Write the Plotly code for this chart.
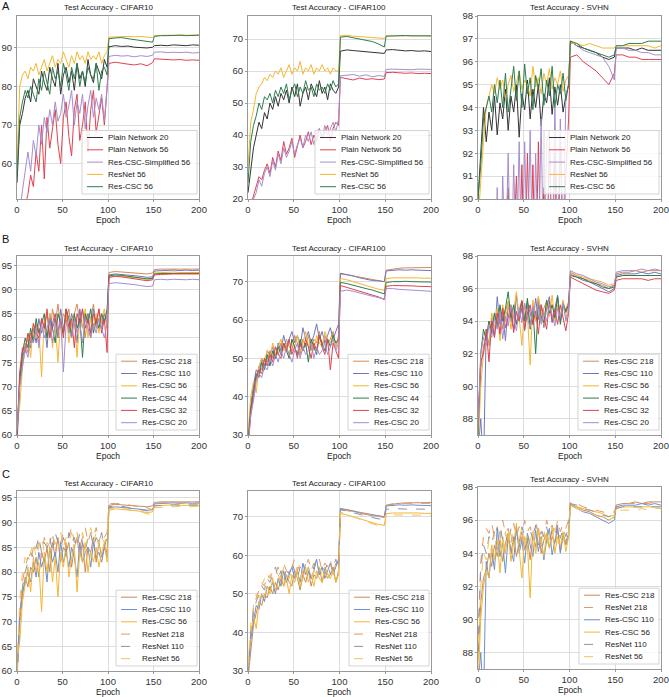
import plotly.graph_objects as go

W, H = 669, 697
FONT = "Liberation Sans, Arial, sans-serif"

# epochs sampled from the training curves
EPOCHS = [0, 3, 6, 9, 12, 15, 18, 21, 24, 27, 30, 33, 36, 39, 42, 45, 48, 51, 54, 57,
          60, 63, 66, 69, 72, 75, 78, 81, 84, 87, 90, 93, 96, 99,
          101, 108, 115, 122, 129, 136, 143, 149, 151, 158, 165, 172, 179, 186, 193, 200]

# ---------------- A: plain vs residual ----------------
A_C10_PLAIN20 = [55, 70, 73, 77, 79, 76, 82, 80, 78, 84, 81, 79, 85, 82, 80, 86, 78, 83, 85, 81,
                 84, 79, 86, 82, 84, 80, 87, 83, 81, 86, 84, 82, 87, 85,
                 90.3, 90.6, 90.4, 90.5, 90.2, 90.1, 90.0, 90.2, 90.6, 90.7, 90.6, 90.8, 90.7, 90.6, 90.8, 90.7]
A_C10_PLAIN56 = [38, 42, 46, 49, 52, 57, 54, 63, 58, 70, 56, 72, 64, 69, 74, 65, 60, 72, 76, 67,
                 62, 74, 78, 66, 70, 76, 63, 74, 79, 68, 73, 77, 70, 81,
                 86.0, 86.3, 86.0, 85.8, 85.6, 85.9, 85.4, 86.2, 87.2, 87.1, 87.0, 86.9, 87.0, 86.8, 86.9, 86.8]
A_C10_SIMPL56 = [42, 48, 53, 58, 63, 58, 66, 62, 70, 65, 72, 68, 74, 70, 76, 71, 73, 78, 72, 75,
                 79, 70, 76, 73, 78, 69, 75, 79, 72, 77, 74, 78, 71, 80,
                 87.8, 88.1, 87.9, 88.0, 87.7, 88.0, 87.8, 88.1, 88.9, 89.0, 88.8, 88.9, 88.8, 88.9, 88.7, 88.8]
A_C10_RESNET56 = [60, 80, 83, 84, 82, 85, 84, 86, 83, 85, 87, 84, 86, 88, 85, 87, 86, 89, 87, 85,
                  88, 86, 89, 87, 88, 86, 89, 87, 88, 87, 89, 86, 88, 89,
                  92.8, 92.9, 92.9, 93.0, 92.9, 93.0, 92.8, 92.7, 93.2, 93.3, 93.3, 93.3, 93.4, 93.3, 93.3, 93.4]
A_C10_CSC56 = [57, 72, 76, 79, 77, 80, 78, 76, 82, 79, 84, 81, 78, 85, 82, 84, 80, 86, 83, 79,
               85, 82, 86, 80, 84, 81, 85, 83, 82, 86, 79, 84, 85, 83,
               92.4, 92.6, 92.7, 92.4, 92.2, 92.0, 91.7, 91.5, 93.0, 93.2, 93.2, 93.3, 93.3, 93.2, 93.3, 93.3]

A_C100_PLAIN20 = [22, 30, 36, 40, 44, 42, 47, 45, 50, 48, 52, 49, 53, 51, 54, 50, 55, 52, 56, 49,
                  53, 55, 51, 56, 54, 52, 57, 53, 55, 51, 56, 54, 53, 55,
                  66.2, 66.6, 66.4, 66.2, 66.0, 65.9, 65.6, 65.5, 66.6, 66.7, 66.5, 66.3, 66.4, 66.2, 66.3, 66.1]
A_C100_PLAIN56 = [15, 18, 21, 24, 27, 26, 29, 31, 28, 33, 30, 35, 32, 38, 34, 36, 39, 33, 37, 40,
                  36, 38, 41, 37, 40, 38, 42, 39, 41, 43, 38, 42, 44, 43,
                  58.0, 57.6, 57.2, 57.8, 57.4, 57.6, 57.3, 57.5, 59.5, 59.6, 59.4, 59.3, 59.4, 59.2, 59.3, 59.2]
A_C100_SIMPL56 = [14, 17, 20, 22, 26, 24, 28, 30, 27, 32, 29, 34, 31, 36, 33, 35, 38, 34, 37, 39,
                  36, 40, 38, 41, 37, 40, 42, 39, 43, 40, 42, 44, 41, 45,
                  58.5, 58.7, 58.9, 58.4, 58.8, 58.2, 58.6, 58.3, 60.5, 60.6, 60.5, 60.6, 60.4, 60.6, 60.5, 60.5]
A_C100_RESNET56 = [30, 44, 48, 53, 55, 56, 58, 57, 59, 58, 60, 59, 61, 58, 60, 62, 59, 61, 60, 63,
                   59, 61, 60, 62, 59, 61, 60, 62, 60, 61, 59, 61, 60, 60,
                   71.0, 71.2, 70.9, 70.8, 70.6, 70.5, 70.3, 70.2, 71.0, 71.0, 71.1, 71.0, 71.2, 71.0, 71.0, 70.9]
A_C100_CSC56 = [25, 38, 43, 46, 50, 48, 52, 51, 53, 50, 54, 52, 55, 53, 56, 51, 54, 56, 52, 55,
                53, 57, 54, 55, 52, 56, 54, 55, 53, 56, 54, 57, 55, 56,
                70.6, 70.8, 70.4, 70.0, 69.6, 69.2, 68.4, 67.5, 70.9, 71.0, 71.0, 71.1, 71.0, 71.0, 70.9, 71.0]

A_SVHN_PLAIN20 = [90.0, 92.0, 94.0, 92.5, 93.8, 93.0, 94.5, 92.8, 94.2, 93.5, 94.8, 93.0, 94.5, 93.8, 95.0, 92.7, 94.6, 93.9, 95.2, 93.5,
                  94.8, 94.0, 95.0, 93.2, 94.6, 94.2, 95.3, 93.7, 94.9, 94.1, 95.0, 93.8, 94.5, 95.0,
                  96.9, 96.7, 96.6, 96.5, 96.4, 96.2, 96.1, 96.2, 96.6, 96.6, 96.6, 96.5, 96.6, 96.5, 96.5, 96.5]
A_SVHN_PLAIN56 = [85, 86, 87, 86, 88, 87, 89, 86, 88, 87, 89, 90.5, 86, 88, 91, 87, 91.5, 86, 92, 87,
                  91.5, 86, 92.5, 87, 90.5, 86, 93, 87, 92, 86, 92.5, 88, 91, 93.5,
                  96.2, 96.3, 96.0, 95.8, 95.6, 95.3, 95.0, 95.5, 96.3, 96.3, 96.2, 96.2, 96.1, 96.1, 96.1, 96.1]
A_SVHN_SIMPL56 = [84, 86, 87, 88, 87, 89, 86, 90.5, 86, 91, 87, 92, 86, 91.5, 87, 92.5, 86, 92.5, 87, 93,
                  86, 92, 87, 93.5, 86, 92.5, 93, 87, 94, 88, 93.5, 87, 94.5, 95,
                  96.9, 96.7, 96.5, 96.4, 96.3, 96.2, 95.8, 95.2, 96.6, 96.6, 96.5, 96.5, 96.4, 96.4, 96.3, 96.3]
A_SVHN_RESNET56 = [89, 91.0, 92.5, 94.0, 94.5, 95.0, 94.6, 95.3, 94.8, 95.2, 94.4, 95.0, 95.4, 94.7, 95.1, 95.6, 94.8, 95.2, 95.0, 94.5,
                   95.8, 94.9, 95.3, 94.6, 95.5, 95.0, 95.7, 94.8, 95.3, 95.0, 95.6, 94.7, 95.2, 95.4,
                   96.8, 96.8, 96.7, 96.8, 96.7, 96.6, 96.6, 96.6, 96.7, 96.7, 96.7, 96.7, 96.7, 96.7, 96.6, 96.7]
A_SVHN_CSC56 = [90, 91.5, 93.5, 94.0, 94.5, 93.8, 95.0, 94.2, 95.2, 94.0, 95.5, 93.8, 94.9, 95.8, 94.3, 95.6, 94.0, 95.9, 94.6, 95.3,
                93.9, 95.4, 94.8, 95.7, 94.1, 95.2, 94.5, 95.8, 94.0, 95.0, 94.6, 95.5, 94.3, 95.0,
                96.9, 96.8, 96.6, 96.5, 96.4, 96.3, 96.2, 96.3, 96.7, 96.7, 96.8, 96.8, 96.8, 96.9, 96.9, 96.9]

# ---------------- B / C: Res-CSC depths ----------------
C10_CSC218 = [58, 70, 75, 79, 77, 81, 80, 83, 79, 84, 82, 85, 80, 86, 83, 87, 82, 85, 84, 86,
              81, 85, 87, 83, 86, 80, 85, 84, 87, 82, 86, 83, 85, 84,
              93.5, 93.7, 93.6, 93.5, 93.4, 93.3, 93.2, 93.4, 94.1, 94.2, 94.2, 94.3, 94.2, 94.2, 94.3, 94.2]
C10_CSC110 = [60, 72, 76, 78, 80, 78, 82, 79, 84, 81, 83, 78, 85, 82, 84, 80, 86, 82, 84, 81,
              85, 83, 79, 86, 82, 84, 85, 81, 86, 83, 84, 82, 85, 83,
              93.0, 93.2, 93.1, 92.9, 92.8, 92.7, 92.5, 92.6, 93.8, 93.9, 93.9, 94.0, 93.9, 94.0, 93.9, 94.0]
C10_CSC56 = [62, 66, 74, 78, 81, 76, 83, 80, 82, 72, 84, 80, 85, 78, 83, 75, 84, 81, 86, 79,
             83, 85, 76, 84, 82, 86, 80, 84, 82, 85, 81, 84, 86, 82,
             92.5, 92.8, 92.7, 92.6, 92.4, 92.3, 92.0, 92.2, 93.4, 93.5, 93.5, 93.6, 93.5, 93.5, 93.6, 93.5]
C10_CSC44 = [59, 71, 77, 80, 78, 82, 79, 84, 81, 83, 85, 80, 84, 82, 79, 85, 83, 81, 86, 84,
             80, 85, 82, 84, 76, 85, 83, 86, 81, 84, 82, 85, 83, 86,
             92.8, 93.0, 92.9, 92.7, 92.5, 92.4, 92.2, 92.3, 93.2, 93.3, 93.3, 93.4, 93.3, 93.3, 93.4, 93.3]
C10_CSC32 = [60, 73, 78, 77, 81, 79, 83, 81, 80, 84, 82, 86, 80, 83, 85, 81, 84, 80, 86, 82,
             84, 78, 85, 83, 86, 82, 84, 80, 85, 83, 86, 81, 84, 77,
             92.5, 92.7, 92.6, 92.4, 92.3, 92.0, 91.8, 92.0, 93.0, 93.1, 93.2, 93.2, 93.2, 93.2, 93.2, 93.2]
C10_CSC20 = [61, 70, 74, 78, 76, 80, 79, 82, 78, 83, 80, 82, 84, 79, 83, 81, 84, 73, 83, 82,
             80, 84, 81, 83, 79, 84, 82, 80, 83, 81, 84, 82, 80, 83,
             91.2, 91.4, 91.3, 91.2, 91.0, 90.8, 90.6, 90.7, 92.0, 92.1, 92.0, 92.1, 92.0, 92.0, 92.1, 92.0]

C100_CSC218 = [28, 36, 42, 45, 48, 47, 50, 49, 52, 50, 53, 51, 54, 52, 55, 53, 52, 56, 54, 51,
               55, 53, 56, 52, 55, 54, 57, 53, 56, 54, 55, 57, 53, 56,
               72.0, 71.8, 71.5, 71.2, 70.8, 70.5, 70.2, 70.0, 73.0, 73.3, 73.5, 73.6, 73.6, 73.7, 73.6, 73.7]
C100_CSC110 = [29, 38, 43, 47, 46, 50, 48, 52, 51, 53, 50, 54, 52, 56, 53, 55, 57, 54, 56, 53,
               58, 55, 57, 54, 56, 59, 55, 57, 54, 56, 58, 55, 57, 59,
               72.2, 71.9, 71.5, 71.0, 70.6, 70.3, 70.2, 70.0, 72.8, 73.0, 73.1, 73.0, 73.1, 73.0, 73.0, 72.9]
C100_CSC56 = [30, 40, 44, 41, 48, 50, 49, 52, 50, 54, 51, 53, 55, 52, 54, 50, 55, 53, 56, 52,
              54, 57, 53, 55, 52, 56, 54, 53, 57, 55, 54, 56, 53, 55,
              70.8, 70.5, 70.0, 69.5, 69.0, 68.5, 68.0, 67.8, 70.8, 71.0, 71.0, 71.1, 71.0, 71.0, 70.9, 70.9]
C100_CSC44 = [28, 37, 41, 46, 45, 49, 47, 51, 48, 52, 50, 53, 51, 54, 52, 50, 55, 53, 51, 55,
              52, 54, 49, 55, 53, 51, 56, 54, 52, 55, 53, 56, 54, 55,
              69.8, 69.5, 69.0, 68.6, 68.2, 67.8, 67.2, 66.8, 69.8, 70.0, 70.0, 70.1, 70.0, 70.0, 70.0, 69.9]
C100_CSC32 = [27, 36, 40, 45, 47, 46, 50, 48, 51, 49, 53, 51, 50, 54, 52, 55, 51, 53, 50, 54,
              52, 55, 53, 50, 54, 52, 56, 53, 51, 55, 47, 54, 52, 50,
              69.0, 68.5, 68.0, 67.5, 67.0, 66.5, 66.0, 65.3, 68.8, 69.0, 69.0, 68.9, 68.9, 68.8, 68.8, 68.7]
C100_CSC20 = [26, 35, 39, 44, 46, 45, 48, 47, 50, 48, 51, 49, 52, 50, 53, 51, 49, 52, 54, 50,
              53, 51, 52, 54, 50, 53, 51, 52, 54, 51, 53, 55, 52, 54,
              67.5, 67.8, 67.5, 67.0, 66.5, 66.2, 65.8, 65.5, 68.2, 68.2, 68.0, 67.9, 67.8, 67.7, 67.6, 67.5]

SVHN_CSC218 = [87.5, 91.0, 92.5, 93.0, 94.0, 93.2, 94.5, 93.8, 94.8, 93.5, 94.6, 95.2, 94.0, 95.0, 93.8, 94.7, 95.3, 94.2, 94.9, 93.6,
               95.1, 94.4, 95.5, 94.0, 94.8, 95.2, 94.3, 95.0, 94.6, 95.4, 94.1, 95.0, 94.7, 95.2,
               97.0, 96.8, 96.6, 96.5, 96.3, 96.2, 96.0, 96.2, 96.9, 97.0, 97.0, 97.1, 97.0, 97.1, 97.1, 97.1]
SVHN_CSC110 = [86.0, 88.0, 85.0, 93.5, 92.5, 94.2, 93.0, 95.5, 93.8, 94.6, 92.8, 95.0, 94.2, 93.5, 95.6, 94.0, 94.8, 93.4, 95.2, 94.4,
               93.8, 95.4, 94.1, 95.0, 93.6, 94.8, 95.5, 93.9, 94.7, 95.6, 94.0, 95.2, 94.5, 95.0,
               96.9, 96.7, 96.5, 96.4, 96.2, 96.0, 95.8, 96.0, 96.8, 96.9, 96.9, 96.9, 97.0, 96.9, 97.0, 96.9]
SVHN_CSC56 = [86.0, 90.0, 92.0, 93.0, 92.5, 94.5, 93.6, 94.8, 92.8, 95.0, 94.0, 95.2, 93.5, 94.7, 95.8, 94.2, 92.5, 95.0, 94.5, 91.3,
              95.3, 94.0, 95.5, 94.6, 93.8, 95.2, 94.3, 95.6, 94.0, 95.0, 94.4, 95.3, 94.1, 95.0,
              96.9, 96.8, 96.7, 96.6, 96.5, 96.4, 96.2, 96.3, 96.7, 96.8, 96.8, 96.8, 96.8, 96.8, 96.8, 96.8]
SVHN_CSC44 = [87.0, 92.0, 93.5, 92.8, 94.0, 93.3, 94.5, 93.6, 95.0, 94.0, 94.8, 95.8, 94.2, 95.0, 93.8, 94.6, 95.2, 94.0, 95.4, 93.5,
              94.8, 92.0, 95.0, 94.3, 93.9, 95.3, 94.5, 95.0, 94.2, 95.5, 93.8, 95.0, 94.6, 95.0,
              96.8, 96.7, 96.6, 96.4, 96.3, 96.1, 96.0, 96.1, 96.7, 96.8, 96.8, 96.8, 96.8, 96.8, 96.8, 96.8]
SVHN_CSC32 = [88.0, 91.5, 92.0, 93.5, 91.5, 94.0, 93.0, 94.5, 93.2, 94.8, 93.6, 94.2, 95.0, 93.3, 94.6, 94.0, 95.2, 93.5, 94.5, 95.0,
              93.8, 94.6, 93.2, 95.0, 94.3, 93.5, 95.2, 94.0, 94.7, 93.8, 95.0, 94.2, 93.4, 94.5,
              96.7, 96.5, 96.3, 96.1, 95.9, 95.8, 95.7, 95.9, 96.5, 96.6, 96.6, 96.6, 96.6, 96.5, 96.6, 96.6]
SVHN_CSC20 = [87.5, 92.0, 93.0, 92.5, 93.8, 93.0, 94.2, 93.5, 94.6, 92.9, 94.3, 93.7, 95.0, 94.1, 93.4, 94.8, 93.9, 95.1, 94.2, 93.6,
              94.9, 94.3, 95.2, 93.8, 94.5, 94.0, 95.0, 94.4, 93.7, 94.8, 94.2, 95.1, 94.0, 94.6,
              97.1, 96.9, 96.8, 96.6, 96.4, 96.3, 96.1, 96.2, 97.0, 97.1, 97.1, 97.1, 97.2, 97.1, 97.2, 97.1]

# ---------------- C: ResNet baselines ----------------
C10_RESNET218 = [60, 72, 78, 81, 83, 82, 85, 84, 86, 83, 87, 85, 86, 88, 84, 87, 86, 88, 85, 87,
                 89, 86, 88, 85, 87, 89, 86, 88, 87, 89, 86, 88, 87, 88,
                 93.8, 93.9, 93.8, 93.6, 93.4, 93.2, 93.0, 92.6, 93.9, 94.0, 94.0, 94.0, 94.0, 94.1, 94.0, 94.0]
C10_RESNET110 = [58, 70, 77, 80, 82, 84, 83, 85, 87, 84, 86, 85, 87, 84, 88, 86, 85, 87, 84, 88,
                 86, 87, 85, 88, 86, 84, 87, 88, 85, 87, 86, 88, 85, 87,
                 93.2, 93.4, 93.3, 93.1, 92.9, 92.7, 92.4, 92.2, 93.4, 93.5, 93.6, 93.6, 93.6, 93.6, 93.6, 93.6]
C10_RESNET56 = [60, 74, 80, 83, 82, 84, 86, 83, 85, 87, 84, 86, 85, 87, 86, 84, 88, 85, 87, 86,
                88, 84, 87, 86, 88, 85, 87, 89, 86, 88, 85, 87, 86, 88,
                92.8, 93.0, 92.9, 92.7, 92.5, 92.2, 91.8, 91.6, 93.0, 93.1, 93.2, 93.2, 93.3, 93.2, 93.3, 93.3]

C100_RESNET218 = [30, 41, 46, 49, 51, 53, 52, 55, 54, 56, 55, 57, 54, 58, 56, 55, 57, 59, 56, 58,
                  55, 57, 59, 56, 58, 57, 59, 56, 58, 57, 59, 55, 58, 57,
                  72.0, 71.6, 71.3, 71.0, 70.7, 70.4, 70.0, 69.8, 73.0, 73.4, 73.5, 73.5, 73.6, 73.5, 73.6, 73.5]
C100_RESNET110 = [29, 40, 45, 48, 50, 52, 51, 54, 53, 55, 57, 54, 56, 53, 57, 55, 58, 56, 54, 57,
                  55, 58, 56, 54, 57, 59, 55, 57, 56, 58, 55, 57, 59, 56,
                  71.8, 71.5, 71.0, 70.6, 70.2, 69.8, 69.5, 69.2, 72.0, 72.1, 72.1, 72.0, 72.1, 72.0, 72.0, 72.0]
C100_RESNET56 = [31, 42, 47, 50, 49, 52, 54, 53, 55, 54, 56, 55, 53, 57, 55, 54, 56, 55, 57, 54,
                 56, 55, 57, 54, 56, 55, 57, 55, 56, 54, 57, 55, 56, 55,
                 71.2, 70.6, 70.0, 69.4, 68.8, 68.2, 67.6, 67.3, 70.3, 70.5, 70.5, 70.5, 70.5, 70.4, 70.5, 70.4]

SVHN_RESNET218 = [89.0, 93.5, 95.0, 95.5, 95.2, 95.8, 95.0, 95.6, 94.8, 96.0, 95.2, 95.5, 94.6, 95.8, 95.0, 95.6, 94.8, 96.0, 95.3, 95.6,
                  94.9, 95.9, 95.2, 95.5, 95.0, 96.0, 95.4, 95.7, 95.1, 96.0, 95.3, 95.8, 95.5, 96.0,
                  97.1, 97.0, 96.8, 96.7, 96.6, 96.5, 96.4, 96.5, 96.9, 97.0, 97.0, 97.0, 97.0, 97.0, 97.1, 97.0]
SVHN_RESNET110 = [88.0, 93.0, 94.5, 94.0, 95.0, 94.6, 95.3, 94.2, 95.6, 94.8, 95.2, 94.5, 95.5, 94.7, 95.4, 94.3, 95.6, 95.0, 94.6, 95.4,
                  94.8, 95.7, 94.5, 95.3, 95.0, 95.6, 94.7, 95.4, 95.1, 95.7, 94.9, 95.5, 95.0, 95.6,
                  97.0, 96.9, 96.7, 96.6, 96.5, 96.3, 96.2, 96.4, 96.7, 96.8, 96.8, 96.8, 96.8, 96.8, 96.8, 96.8]
SVHN_RESNET56 = [87.5, 92.0, 94.0, 93.6, 94.8, 94.0, 95.2, 94.4, 95.0, 93.8, 95.3, 94.6, 95.5, 94.2, 95.0, 94.8, 95.6, 94.3, 95.2, 94.7,
                 95.4, 94.0, 95.3, 94.6, 95.5, 94.4, 95.1, 94.8, 95.6, 94.3, 95.2, 94.7, 95.3, 95.0,
                 96.9, 96.7, 96.5, 96.4, 96.3, 96.1, 96.0, 96.2, 96.6, 96.6, 96.6, 96.6, 96.7, 96.6, 96.7, 96.7]

# colours
DARK, RED, LAV, YEL, GRN = "#333333", "#e0424f", "#a58dcf", "#f5b731", "#2e7d4e"
ORG, BLU = "#d98a52", "#7077b8"
C_ORG, C_BLU, D_ORG, D_GRY, D_YEL = "#c98a5e", "#6f8fce", "#e39a62", "#8a93ad", "#f2c35a"

A_NAMES = ["Plain Network 20", "Plain Network 56", "Res-CSC-Simplified 56", "ResNet 56", "Res-CSC 56"]
A_COLORS = [DARK, RED, LAV, YEL, GRN]
B_NAMES = ["Res-CSC 218", "Res-CSC 110", "Res-CSC 56", "Res-CSC 44", "Res-CSC 32", "Res-CSC 20"]
B_COLORS = [ORG, BLU, YEL, GRN, RED, LAV]
C_NAMES = ["Res-CSC 218", "Res-CSC 110", "Res-CSC 56", "ResNet 218", "ResNet 110", "ResNet 56"]
C_COLORS = [C_ORG, C_BLU, YEL, D_ORG, D_GRY, D_YEL]
C_DASH = ["solid", "solid", "solid", "dash", "dash", "dash"]
C3_NAMES = ["Res-CSC 218", "ResNet 218", "Res-CSC 110", "Res-CSC 56", "ResNet 110", "ResNet 56"]
C3_COLORS = [C_ORG, D_ORG, C_BLU, YEL, D_GRY, D_YEL]
C3_DASH = ["solid", "dash", "solid", "solid", "dash", "dash"]

PANELS = [
    dict(title="Test Accuracy - CIFAR10", yr=[50.8, 98.3], yt=[60, 70, 80, 90], names=A_NAMES, colors=A_COLORS,
         series=[A_C10_PLAIN20, A_C10_PLAIN56, A_C10_SIMPL56, A_C10_RESNET56, A_C10_CSC56], lw=115),
    dict(title="Test Accuracy - CIFAR100", yr=[20, 77.2], yt=[20, 30, 40, 50, 60, 70], names=A_NAMES, colors=A_COLORS,
         series=[A_C100_PLAIN20, A_C100_PLAIN56, A_C100_SIMPL56, A_C100_RESNET56, A_C100_CSC56], lw=114),
    dict(title="Test Accuracy - SVHN", yr=[90, 98], yt=[90, 91, 92, 93, 94, 95, 96, 97, 98], names=A_NAMES, colors=A_COLORS,
         series=[A_SVHN_PLAIN20, A_SVHN_PLAIN56, A_SVHN_SIMPL56, A_SVHN_RESNET56, A_SVHN_CSC56], lw=115),
    dict(title="Test Accuracy - CIFAR10", yr=[60, 96.9], yt=[60, 65, 70, 75, 80, 85, 90, 95], names=B_NAMES, colors=B_COLORS,
         series=[C10_CSC218, C10_CSC110, C10_CSC56, C10_CSC44, C10_CSC32, C10_CSC20], lw=81),
    dict(title="Test Accuracy - CIFAR100", yr=[30, 76.7], yt=[30, 40, 50, 60, 70], names=B_NAMES, colors=B_COLORS,
         series=[C100_CSC218, C100_CSC110, C100_CSC56, C100_CSC44, C100_CSC32, C100_CSC20], lw=81),
    dict(title="Test Accuracy - SVHN", yr=[87, 98], yt=[88, 90, 92, 94, 96, 98], names=B_NAMES, colors=B_COLORS,
         series=[SVHN_CSC218, SVHN_CSC110, SVHN_CSC56, SVHN_CSC44, SVHN_CSC32, SVHN_CSC20], lw=81),
    dict(title="Test Accuracy - CIFAR10", yr=[60, 96.4], yt=[60, 65, 70, 75, 80, 85, 90, 95], names=C_NAMES, colors=C_COLORS,
         dash=C_DASH, series=[C10_CSC218, C10_CSC110, C10_CSC56, C10_RESNET218, C10_RESNET110, C10_RESNET56], lw=81),
    dict(title="Test Accuracy - CIFAR100", yr=[30, 76.7], yt=[30, 40, 50, 60, 70], names=C_NAMES, colors=C_COLORS,
         dash=C_DASH, series=[C100_CSC218, C100_CSC110, C100_CSC56, C100_RESNET218, C100_RESNET110, C100_RESNET56], lw=80),
    dict(title="Test Accuracy - SVHN", yr=[87, 98], yt=[88, 90, 92, 94, 96, 98], names=C3_NAMES, colors=C3_COLORS,
         dash=C3_DASH, series=[SVHN_CSC218, SVHN_RESNET218, SVHN_CSC110, SVHN_CSC56, SVHN_RESNET110, SVHN_RESNET56], lw=80),
]

# plot boxes in pixels (left, right) per column and (top, bottom) per row
COLS = [(17, 199), (248, 431), (478, 661)]
ROWS = [(16, 199), (256, 435), (491, 671)]


def px(x):
    return x / W


def py(y):
    return 1 - y / H


fig = go.Figure()
shapes, annotations = [], []

for k, p in enumerate(PANELS):
    r, c = divmod(k, 3)
    left, right = COLS[c]
    top, bottom = ROWS[r]
    if k == 8:
        top, bottom = 487, 669
    sfx = "" if k == 0 else str(k + 1)
    dashes = p.get("dash", ["solid"] * len(p["names"]))

    for name, vals, col, dash in zip(p["names"], p["series"], p["colors"], dashes):
        if len(vals) != len(EPOCHS):
            raise ValueError(f"{name} in panel {k}: {len(vals)} values")
        fig.add_trace(go.Scatter(
            x=EPOCHS, y=vals, mode="lines", name=name, showlegend=False,
            line=dict(color=col, width=1, dash=dash),
            xaxis="x" + sfx, yaxis="y" + sfx,
        ))

    axis_style = dict(
        showgrid=True, gridcolor="#dddddd", gridwidth=1, zeroline=False,
        showline=True, mirror=True, linecolor="#999999", linewidth=1,
        ticks="outside", ticklen=2, tickcolor="#999999", automargin=False,
        tickfont=dict(family=FONT, size=9.5, color="#333333"),
    )
    fig.layout["xaxis" + sfx] = dict(
        axis_style, domain=[px(left), px(right)], anchor="y" + sfx,
        range=[0, 200], tickvals=[0, 50, 100, 150, 200],
    )
    fig.layout["yaxis" + sfx] = dict(
        axis_style, domain=[py(bottom), py(top)], anchor="x" + sfx,
        range=p["yr"], tickvals=p["yt"],
    )

    mid = (left + right) / 2
    annotations.append(dict(
        x=px(mid), y=py(top - 8), xref="paper", yref="paper", text=p["title"],
        showarrow=False, xanchor="center", yanchor="middle",
        font=dict(family=FONT, size=8, color="#222222"),
    ))
    annotations.append(dict(
        x=px(mid), y=py(bottom + 21), xref="paper", yref="paper", text="Epoch",
        showarrow=False, xanchor="center", yanchor="middle",
        font=dict(family=FONT, size=8.5, color="#222222"),
    ))

    # legend box in the lower right corner, matplotlib style
    n = len(p["names"])
    step = 12.3
    lg_r = right - 2
    lg_b = bottom - 5
    lg_l = lg_r - p["lw"]
    lg_t = lg_b - (n * step + 2)
    shapes.append(dict(
        type="rect", xref="paper", yref="paper",
        x0=px(lg_l), x1=px(lg_r), y0=py(lg_b), y1=py(lg_t),
        fillcolor="rgba(255,255,255,0.82)", line=dict(color="#d4d4d4", width=1), layer="above",
    ))
    for i, (name, col, dash) in enumerate(zip(p["names"], p["colors"], dashes)):
        yy = lg_t + 7 + i * step
        shapes.append(dict(
            type="line", xref="paper", yref="paper",
            x0=px(lg_l + 5), x1=px(lg_l + 21), y0=py(yy), y1=py(yy),
            line=dict(color=col, width=1, dash="dash" if dash == "dash" else "solid"), layer="above",
        ))
        annotations.append(dict(
            x=px(lg_l + 24), y=py(yy), xref="paper", yref="paper", text=name,
            showarrow=False, xanchor="left", yanchor="middle",
            font=dict(family=FONT, size=8, color="#222222"),
        ))

for letter, yy in [("A", 6), ("B", 239), ("C", 474)]:
    annotations.append(dict(
        x=px(0), y=py(yy), xref="paper", yref="paper", text=letter,
        showarrow=False, xanchor="left", yanchor="middle",
        font=dict(family=FONT, size=11, color="#111111"),
    ))

fig.update_layout(
    width=W, height=H,
    margin=dict(l=0, r=0, t=0, b=0),
    paper_bgcolor="white", plot_bgcolor="white",
    showlegend=False,
    shapes=shapes, annotations=annotations,
)

# the page's default body margin would push the figure 8px off the window
fig.write_html(
    "out.html",
    config={"displayModeBar": False},
    post_script="document.body.style.margin = '0px';",
)
